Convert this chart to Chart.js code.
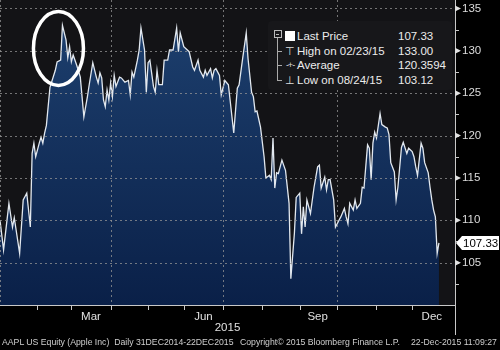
<!DOCTYPE html>
<html>
<head>
<meta charset="utf-8">
<script src="https://cdn.jsdelivr.net/npm/chart.js@4.4.1/dist/chart.umd.min.js"></script>
<style>
  body { margin: 0; background: #000; }
  #wrap { position: relative; width: 500px; height: 350px; background: #000; font-family: "Liberation Sans", Arial, sans-serif; }
  #legend { position: absolute; left: 268px; top: 21px; width: 184px; height: 69px; background: #17171a; border-radius: 4px; color: #ececec; font-size: 11.5px; }
  #legend .row { position: absolute; left: 0; height: 14px; line-height: 14px; width: 184px; }
  #legend .lab { position: absolute; left: 29px; }
  #legend .val { position: absolute; left: 130px; }
  #legend .ico { position: absolute; left: 15px; width: 14px; text-align: center; }
  #footer { position: absolute; left: 0; top: 337px; width: 500px; height: 12px; color: #cfcfcf; font-size: 8.7px; white-space: nowrap; }
  #footer span { position: absolute; top: 0; }
</style>
</head>
<body>
<div id="wrap">
  <canvas id="grafico" width="500" height="350"></canvas>
  <div id="legend"></div>
  <div id="footer">
    <span style="left:2px">AAPL US Equity (Apple Inc)&nbsp; Daily 31DEC2014-22DEC2015</span>
    <span style="left:240px">Copyright© 2015 Bloomberg Finance L.P.</span>
    <span style="left:411px">22-Dec-2015 11:09:27</span>
  </div>
</div>
<script>
// trading day index (0 = 31 Dec 2014) and close price
const tradingDays = [0,2,5,7,8,11,13,15,17,18,19,20,22,23,24,25,26,28,31,32,34,35,37,38,39,40,41,43,45,47,49,50,52,54,55,56,57,58,59,60,61,62,63,64,65,67,68,70,72,73,74,75,77,78,79,81,82,83,84,86,87,88,89,91,92,94,95,97,99,100,101,103,105,106,108,109,111,112,114,115,116,118,119,120,121,123,124,126,128,131,133,134,136,138,139,141,142,143,144,146,148,149,151,152,153,154,155,156,158,160,162,163,165,166,168,169,170,171,172,174,176,178,179,180,182,183,184,185,187,188,190,191,193,194,195,196,198,199,200,202,203,204,206,207,208,209,210,211,213,214,216,217,218,219,221,222,223,225,226,228,229,231,232,233,234,236,237,238,240,241,242,243,244,245,246];
const prices = [110.0,106.5,112.0,109.2,110.3,106.1,112.4,113.2,109.2,117.9,119.1,117.5,119.1,119.8,119.1,120.3,121.2,125.7,127.7,128.7,128.9,133.0,131.3,129.2,130.5,128.7,129.5,128.3,126.9,122.2,124.6,126.0,128.6,126.9,126.2,127.4,126.8,124.2,123.4,125.4,124.2,126.2,124.6,127.1,125.8,126.9,126.8,126.3,126.5,124.8,127.5,126.9,128.9,130.1,132.7,130.1,125.1,128.6,128.9,125.8,125.1,127.7,126.0,126.0,128.9,128.9,130.1,130.1,132.7,129.9,132.1,130.5,130.1,129.9,128.1,127.7,128.9,127.7,126.9,127.7,127.1,127.9,126.8,127.7,127.9,127.1,124.8,126.5,126.0,120.3,125.6,126.0,129.1,132.1,129.1,125.1,124.6,122.8,122.9,121.0,117.5,115.0,115.3,114.8,119.7,113.8,115.6,115.5,117.1,115.9,112.0,103.1,108.5,112.7,113.2,108.4,111.6,109.2,112.4,110.8,113.9,116.3,116.5,113.8,115.1,113.6,114.8,114.8,112.4,109.2,110.0,110.4,111.4,110.4,109.6,112.0,111.2,112.4,111.4,112.0,113.9,113.8,118.9,118.5,114.8,119.1,120.4,119.7,122.6,121.3,121.0,120.9,120.1,116.8,115.7,112.4,113.9,118.6,119.2,117.9,118.5,118.1,117.5,116.3,115.3,119.1,118.5,116.8,115.6,113.9,112.4,111.2,110.4,106.1,107.33];

// first trading day of each month Feb..Dec, and where the quarter lines go
const monthStartDays = [21, 40, 62, 83, 103, 125, 147, 168, 189, 211, 231];
const quarterStartDays = [0, 62, 125, 189];
const monthLabelDays = [51, 114, 178, 242];
const monthLabels = ["Mar", "Jun", "Sep", "Dec"];
const yearLabel = "2015";

const yTickValues = [102.5, 105, 107.5, 110, 112.5, 115, 117.5, 120, 122.5, 125, 127.5, 130, 132.5, 135];

const legendLabels = ["Last Price", "High on 02/23/15", "Average", "Low on 08/24/15"];
const legendValues = ["107.33", "133.00", "120.3594", "103.12"];
const legendIcons = ["", "⊤", "-+-", "⊥"];

// legend box (html)
const legendDiv = document.getElementById("legend");
let tree = '<div style="position:absolute;left:6px;top:9px;width:6px;height:6px;border:1px solid #bbb;"></div>';
tree += '<div style="position:absolute;left:8px;top:13px;width:3px;height:1px;background:#bbb;"></div>';
tree += '<div style="position:absolute;left:9px;top:17px;width:1px;height:42px;background:#aaa;"></div>';
for (let i = 1; i < 4; i++) {
  tree += '<div style="position:absolute;left:9px;top:' + (15 + i * 14.5) + 'px;width:5px;height:1px;background:#aaa;"></div>';
}
tree += '<div style="position:absolute;left:17px;top:10px;width:10px;height:10px;background:#fff;"></div>';
legendDiv.innerHTML = tree;
legendLabels.forEach((l, i) => {
  const top = 8 + i * 14.5;
  let icoStyle = "font-size:11px;color:#ddd;";
  if (i === 2) icoStyle = "font-size:9px;color:#ddd;letter-spacing:-1px;";
  legendDiv.innerHTML += '<div class="row" style="top:' + top + 'px">' +
    '<span class="ico" style="' + icoStyle + '">' + legendIcons[i] + '</span>' +
    '<span class="lab">' + l + '</span>' +
    '<span class="val">' + legendValues[i] + '</span></div>';
});

const puntos = tradingDays.map((d, i) => ({ x: d, y: prices[i] }));

const gridDash = "rgba(150,150,150,0.75)";
const axisColor = "#c8c8c8";
const fuente = { family: "'Liberation Sans', Arial, sans-serif", size: 11.5 };

const fondoPlot = {
  id: "fondoPlot",
  beforeDraw(chart) {
    const { ctx, chartArea } = chart;
    ctx.save();
    ctx.fillStyle = "#131316";
    ctx.fillRect(chartArea.left, chartArea.top, chartArea.right - chartArea.left, chartArea.bottom - chartArea.top);
    ctx.restore();
  },
};

// dashed grid, axis lines and tick marks, placed with the chart's own scales
const rejilla = {
  id: "rejilla",
  afterDatasetsDraw(chart) {
    const { ctx, chartArea } = chart;
    const xs = chart.scales.x;
    const ys = chart.scales.y;
    const linea = (x1, y1, x2, y2) => {
      ctx.beginPath();
      ctx.moveTo(x1, y1);
      ctx.lineTo(x2, y2);
      ctx.stroke();
    };
    ctx.save();
    ctx.lineWidth = 1;
    ctx.strokeStyle = gridDash;
    ctx.setLineDash([2, 3]);
    yTickValues.forEach((v) => {
      if (v % 5 !== 0) return;
      const y = Math.round(ys.getPixelForValue(v)) + 0.5;
      linea(chartArea.left, y, chartArea.right, y);
    });
    quarterStartDays.forEach((d) => {
      const x = Math.round(xs.getPixelForValue(d)) + 0.5;
      linea(x, chartArea.top, x, chartArea.bottom);
    });
    ctx.setLineDash([]);
    ctx.strokeStyle = axisColor;
    const b = chartArea.bottom + 0.5;
    const r = chartArea.right + 0.5;
    linea(chartArea.left, b, chartArea.right, b);
    linea(r, chartArea.top, r, chartArea.bottom + 30);
    monthStartDays.forEach((d) => {
      const x = Math.round(xs.getPixelForValue(d)) + 0.5;
      linea(x, chartArea.bottom, x, chartArea.bottom + 5);
    });
    yTickValues.forEach((v) => {
      const y = Math.round(ys.getPixelForValue(v)) + 0.5;
      linea(chartArea.right, y, chartArea.right + 4, y);
    });
    ctx.restore();
  },
};

// white circle round the February high
const circuloMax = {
  id: "circuloMax",
  afterDatasetsDraw(chart) {
    const { ctx } = chart;
    let iMax = 0;
    prices.forEach((p, i) => { if (p > prices[iMax]) iMax = i; });
    const px = chart.scales.x.getPixelForValue(tradingDays[iMax]);
    const py = chart.scales.y.getPixelForValue(prices[iMax]);
    ctx.save();
    ctx.strokeStyle = "#ffffff";
    ctx.lineWidth = 3.5;
    ctx.beginPath();
    ctx.ellipse(px - 4, py + 23, 25, 37, 0, 0, Math.PI * 2);
    ctx.stroke();
    ctx.restore();
  },
};

const marcasEje = {
  id: "marcasEje",
  afterDraw(chart) {
    const { ctx, chartArea } = chart;
    const ys = chart.scales.y;
    ctx.save();
    // little triangles on the major ticks
    ctx.fillStyle = "#e0e0e0";
    yTickValues.forEach((v) => {
      if (v % 5 !== 0) return;
      const y = ys.getPixelForValue(v);
      ctx.beginPath();
      ctx.moveTo(chartArea.right, y - 3);
      ctx.lineTo(chartArea.right + 6, y);
      ctx.lineTo(chartArea.right, y + 3);
      ctx.closePath();
      ctx.fill();
    });
    // last price tag
    const last = prices[prices.length - 1];
    const y = Math.round(ys.getPixelForValue(last));
    const x0 = chartArea.right + 1;
    ctx.fillStyle = "#ffffff";
    ctx.beginPath();
    ctx.moveTo(x0, y);
    ctx.lineTo(x0 + 6, y - 7);
    ctx.lineTo(499, y - 7);
    ctx.lineTo(499, y + 7);
    ctx.lineTo(x0 + 6, y + 7);
    ctx.closePath();
    ctx.fill();
    ctx.fillStyle = "#000";
    ctx.font = "11.5px 'Liberation Sans', Arial, sans-serif";
    ctx.textBaseline = "middle";
    ctx.fillText(last.toFixed(2), x0 + 7, y + 0.5);
    ctx.restore();
  },
};

new Chart(document.getElementById("grafico"), {
  type: "line",
  data: {
    datasets: [
      {
        label: "Last Price",
        data: puntos,
        borderColor: "#e2e8ef",
        borderWidth: 1.3,
        pointRadius: 0,
        tension: 0,
        fill: "start",
        backgroundColor: (context) => {
          const area = context.chart.chartArea;
          if (!area) return "#14345a";
          const g = context.chart.ctx.createLinearGradient(0, area.top, 0, area.bottom);
          g.addColorStop(0, "#1e4170");
          g.addColorStop(1, "#0a2048");
          return g;
        },
      },
    ],
  },
  options: {
    responsive: false,
    animation: false,
    layout: { padding: { left: 0, right: 0, top: 0, bottom: 15 } },
    plugins: {
      legend: { display: false },
      tooltip: { enabled: false },
    },
    scales: {
      x: {
        type: "linear",
        position: "bottom",
        weight: 0,
        min: 0,
        max: 255,
        afterBuildTicks: (scale) => {
          scale.ticks = [0, ...monthStartDays].map((v) => ({ value: v }));
        },
        afterFit: (scale) => { scale.height = 5; },
        ticks: { display: false },
        grid: { color: "rgba(0,0,0,0)", tickColor: "rgba(0,0,0,0)", tickLength: 5 },
        border: { display: false },
      },
      x2: {
        type: "linear",
        position: "bottom",
        weight: 1,
        min: 0,
        max: 255,
        afterBuildTicks: (scale) => {
          scale.ticks = monthLabelDays.map((v) => ({ value: v }));
        },
        afterFit: (scale) => { scale.height = 25; },
        ticks: {
          color: "#e0e0e0",
          font: fuente,
          padding: 0,
          maxRotation: 0,
          autoSkip: false,
          callback: (v) => monthLabels[monthLabelDays.indexOf(v)],
        },
        grid: { display: false, drawTicks: false, tickLength: 0 },
        border: { display: false },
        title: {
          display: true,
          text: yearLabel,
          color: "#e0e0e0",
          font: fuente,
          padding: { top: 0, bottom: 0 },
        },
      },
      y: {
        position: "right",
        min: 100,
        max: 136,
        afterBuildTicks: (scale) => {
          scale.ticks = yTickValues.map((v) => ({ value: v }));
        },
        afterFit: (scale) => {
          scale.width = 45;
          scale.paddingTop = 0;
          scale.paddingBottom = 0;
        },
        ticks: {
          color: "#dcdcdc",
          font: fuente,
          padding: 3,
          autoSkip: false,
          callback: (v) => (v % 5 === 0 ? String(v) : ""),
        },
        grid: { color: "rgba(0,0,0,0)", tickColor: "rgba(0,0,0,0)", tickLength: 4 },
        border: { display: false },
      },
    },
  },
  plugins: [fondoPlot, rejilla, circuloMax, marcasEje],
});
</script>
</body>
</html>
